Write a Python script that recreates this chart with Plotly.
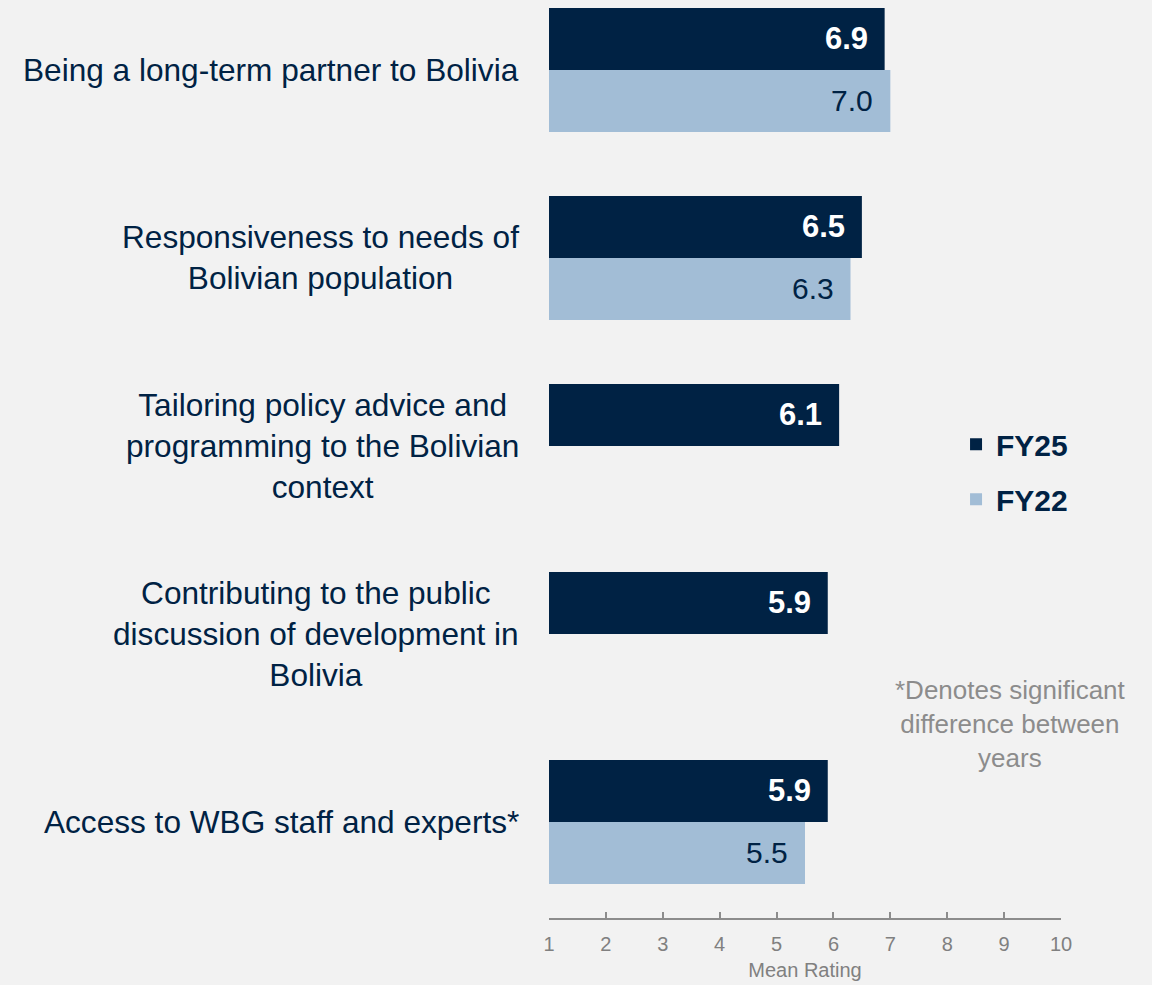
import plotly.graph_objects as go

categories = [
    "Being a long-term partner to Bolivia",
    "Responsiveness to needs of<br>Bolivian population",
    "Tailoring policy advice and<br>programming to the Bolivian<br>context",
    "Contributing to the public<br>discussion of development in<br>Bolivia",
    "Access to WBG staff and experts*",
]
fy25 = [6.9, 6.5, 6.1, 5.9, 5.9]
fy22 = [7.0, 6.3, None, None, 5.5]
x_ticks = list(range(1, 11))

NAVY = "#002244"
LIGHT = "#a2bdd6"
BG = "#f2f2f2"
FONT = "Liberation Sans, Arial, sans-serif"

cat_ids = [f"c{i}" for i in range(len(categories))]

fig = go.Figure()
fig.add_trace(go.Bar(
    y=cat_ids, x=fy25, orientation="h", name="<b>FY25</b>",
    marker=dict(color=NAVY, line=dict(width=0)), legendgroup="a",
))
fig.add_trace(go.Bar(
    y=cat_ids, x=fy22, orientation="h", name="<b>FY22</b>",
    marker=dict(color=LIGHT, line=dict(width=0)), legendgroup="b",
))

annotations = []
for cid, label in zip(cat_ids, categories):
    annotations.append(dict(
        x=0, xref="paper", xshift=-28, xanchor="right", align="center",
        y=cid, yref="y", yanchor="middle", text=label, showarrow=False,
        font=dict(family=FONT, size=31.6, color=NAVY),
    ))
for cid, v in zip(cat_ids, fy25):
    if v is not None:
        annotations.append(dict(
            x=v, xref="x", xshift=-15, xanchor="right", y=cid, yref="y",
            yshift=31, yanchor="middle", text=f"<b>{v:.1f}</b>", showarrow=False,
            font=dict(family=FONT, size=31, color="white"),
        ))
for cid, v in zip(cat_ids, fy22):
    if v is not None:
        annotations.append(dict(
            x=v, xref="x", xshift=-15, xanchor="right", y=cid, yref="y",
            yshift=-31, yanchor="middle", text=f"{v:.1f}", showarrow=False,
            font=dict(family=FONT, size=30, color=NAVY),
        ))
annotations.append(dict(
    x=0.9004, xref="paper", xanchor="center", y=0.2113, yref="paper",
    yanchor="middle", align="center", showarrow=False,
    text="*Denotes significant<br>difference between<br>years",
    font=dict(family=FONT, size=26, color="#8c8c8c"),
))

fig.update_layout(
    width=1152, height=985,
    margin=dict(l=549, r=91, t=0, b=67),
    paper_bgcolor=BG, plot_bgcolor=BG,
    barmode="group", bargap=0.34, bargroupgap=0,
    font=dict(family=FONT, color=NAVY),
    showlegend=True,
    legend=dict(
        x=0.795, xanchor="left", y=0.486, yanchor="middle",
        font=dict(family=FONT, size=30, color=NAVY),
        bgcolor="rgba(0,0,0,0)", tracegroupgap=13, traceorder="grouped",
    ),
    annotations=annotations,
    xaxis=dict(
        range=[1, 10], tickmode="array", tickvals=x_ticks,
        ticktext=[str(t) for t in x_ticks],
        showgrid=False, zeroline=False, showline=True,
        linecolor="#8c8c8c", linewidth=1.5,
        ticks="inside", ticklen=6, tickwidth=1.5, tickcolor="#8c8c8c",
        tickfont=dict(family=FONT, size=20, color="#808080"),
        ticklabelstandoff=7,
        title=dict(text="Mean Rating", font=dict(family=FONT, size=20, color="#808080"), standoff=9),
        fixedrange=True,
    ),
    yaxis=dict(
        categoryorder="array", categoryarray=cat_ids,
        range=[4.511, -0.372], showticklabels=False,
        showgrid=False, zeroline=False, showline=False, ticks="",
        fixedrange=True,
    ),
)

fig.write_html(
    "out.html",
    config={"displayModeBar": False},
    post_script="document.body.style.margin='0';document.body.style.padding='0';document.body.style.background='#f2f2f2';",
)
